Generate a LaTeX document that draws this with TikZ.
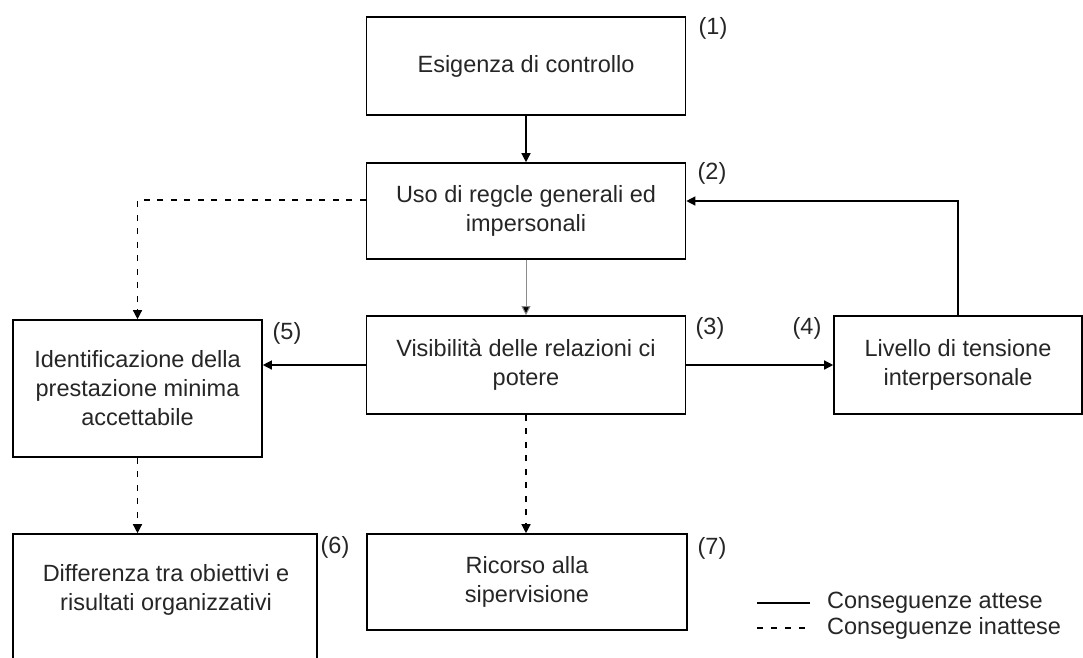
\documentclass[tikz,border=0pt]{standalone}
\usepackage{fontspec}
\setmainfont{Liberation Sans}
\usetikzlibrary{arrows.meta}
\begin{document}
\begin{tikzpicture}[x=1pt,y=-1pt,
  txt/.style={font=\fontsize{23.5}{29}\selectfont,text=black!85},
  box/.style={draw=black,line width=1.6pt,rectangle,align=center,inner sep=0pt,txt},
  num/.style={inner sep=0pt,txt},
  conn/.style={line width=1.3pt,-{Triangle[length=9pt,width=9pt]}},
  expected/.style={conn},
  faint/.style={conn,draw=black!45,line width=1pt,-{Triangle[length=9pt,width=9pt,fill=black]}},
  unexpected/.style={conn,dash pattern=on 6pt off 7.5pt},
  legline/.style={line width=1.3pt},
]
\useasboundingbox (0,0) rectangle (1083,657);
\clip (0,0) rectangle (1083,657);

% boxes
\node[box,minimum width=319pt,minimum height=98pt] (b1) at (526,66) {Esigenza di controllo};
\node[box,minimum width=319pt,minimum height=96pt] (b2) at (526,211) {Uso di regcle generali ed\\impersonali};
\node[box,minimum width=319pt,minimum height=98pt] (b3) at (526,365) {Visibilità delle relazioni ci\\potere};
\node[box,minimum width=248pt,minimum height=98pt] (b4) at (958,365) {Livello di tensione\\interpersonale};
\node[box,minimum width=249pt,minimum height=137pt] (b5) at (137.5,388.5) {Identificazione della\\prestazione minima\\accettabile};
\node[box,minimum width=304pt,minimum height=166pt] (b6) at (165,617) {};
\node[txt,align=center,inner sep=0pt] (t6) at (166,590) {Differenza tra obiettivi e\\risultati organizzativi};
\node[box,minimum width=320pt,minimum height=96pt] (b7) at (527,582) {Ricorso alla\\sipervisione};

% numbering
\node[num] (n1) at (713,28) {(1)};
\node[num] (n2) at (712,173) {(2)};
\node[num] (n3) at (710,328) {(3)};
\node[num] (n4) at (807,328) {(4)};
\node[num] (n5) at (287,333) {(5)};
\node[num] (n6) at (335,547) {(6)};
\node[num] (n7) at (712,548) {(7)};

% expected consequences
\draw[expected] (b1.south) -- (b2.north);
\draw[faint] (b2.south) -- (b3.north);
\draw[expected] (b3.west) -- (b5.east |- b3.west);
\draw[expected] (b3.east) -- (b4.west);
\draw[expected] (b4.north) |- ([yshift=10pt]b2.east);

% unexpected consequences
\draw[unexpected] ([yshift=11pt]b2.west) -| (b5.north);
\draw[unexpected] (b5.south) -- (b5.south |- b6.north);
\draw[unexpected] (b3.south) -- (b3.south |- b7.north);

% legend
\coordinate (la1) at (757,603);
\coordinate (la2) at (810,603);
\coordinate (lb1) at (757,628);
\coordinate (lb2) at (810,628);
\draw[legline] (la1) -- (la2);
\draw[legline,dash pattern=on 6pt off 8pt] (lb1) -- (lb2);
\node[txt,anchor=west,inner sep=0pt] (lt1) at (827,603) {Conseguenze attese};
\node[txt,anchor=west,inner sep=0pt] (lt2) at (827,628) {Conseguenze inattese};
\end{tikzpicture}
\end{document}
